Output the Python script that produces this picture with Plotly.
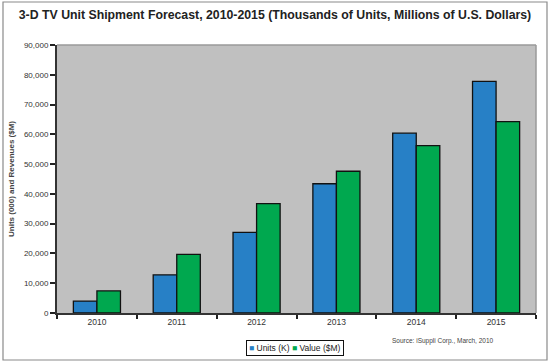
import plotly.graph_objects as go

years = ["2010", "2011", "2012", "2013", "2014", "2015"]
units_k = [4000, 12800, 27100, 43400, 60400, 77800]
value_m = [7400, 19700, 36700, 47600, 56200, 64300]
y_ticks = [0, 10000, 20000, 30000, 40000, 50000, 60000, 70000, 80000, 90000]
series_names = ["Units (K)", "Value ($M)"]

BLUE = "#2780c6"
GREEN = "#00a84f"
FONT = "Liberation Sans, Arial, sans-serif"

fig = go.Figure()
fig.add_trace(go.Bar(x=years, y=units_k, name=series_names[0],
                     marker=dict(color=BLUE, line=dict(color="#111111", width=1.3))))
fig.add_trace(go.Bar(x=years, y=value_m, name=series_names[1],
                     marker=dict(color=GREEN, line=dict(color="#111111", width=1.3))))

L, R, T, B = 57, 14, 45, 51
W, H = 550, 364
pw, ph = W - L - R, H - T - B

def px(xp):
    return (xp - L) / pw

def py(yp):
    return (H - B - yp) / ph

fig.update_layout(
    width=W, height=H,
    margin=dict(l=L, r=R, t=T, b=B, pad=0, autoexpand=False),
    paper_bgcolor="white",
    plot_bgcolor="#c0c0c0",
    barmode="group", bargap=0.41, bargroupgap=0,
    font=dict(family=FONT, color="#333333", size=8),
    title=dict(text="<b>3-D TV Unit Shipment Forecast, 2010-2015 (Thousands of Units, Millions of U.S. Dollars)</b>",
               x=0.5, xref="container", xanchor="center", y=1 - 15 / H, yanchor="middle",
               font=dict(size=12.3, color="#222222", family=FONT)),
    xaxis=dict(showline=True, linecolor="#333333", linewidth=2, ticks="outside",
               tickson="boundaries", ticklen=4, tickwidth=1.5, tickcolor="#222222",
               tickfont=dict(size=8.5, color="#333333"), showgrid=False),
    yaxis=dict(range=[0, 90000], tickvals=y_ticks, tickformat=",", showline=True,
               linecolor="#333333", linewidth=2, ticks="outside", ticklen=5,
               tickwidth=1.5, tickcolor="#222222", showgrid=False, zeroline=False,
               tickfont=dict(size=8, color="#333333"),
               title=dict(text="<b>Units (000) and Revenues ($M)</b>", standoff=8,
                          font=dict(size=8, color="#444444"))),
    showlegend=False,
)

# plot border (top & right)
fig.add_shape(type="line", xref="paper", yref="paper", x0=0, x1=1, y0=1, y1=1,
              line=dict(color="#9a9a9a", width=1.5))
fig.add_shape(type="line", xref="paper", yref="paper", x0=1, x1=1, y0=0, y1=1,
              line=dict(color="#9a9a9a", width=1.5))
# outer frame
fig.add_shape(type="rect", xref="paper", yref="paper", x0=px(3), x1=px(547),
              y0=py(360), y1=py(2), line=dict(color="#8a8a8a", width=1.2))

# compact legend box (Excel style)
legend_text = (f'<span style="color:{BLUE}">■</span> {series_names[0]} '
               f'<span style="color:{GREEN}">■</span> {series_names[1]}')
fig.add_annotation(text=legend_text, xref="paper", yref="paper",
                   x=px(295), y=py(347.5), showarrow=False, xanchor="center", yanchor="middle",
                   bordercolor="#111111", borderwidth=1, borderpad=2, bgcolor="white",
                   font=dict(size=8.5, color="#222222"))

fig.add_annotation(text="Source: iSuppli Corp., March, 2010", xref="paper", yref="paper",
                   x=px(443), y=py(341), showarrow=False, xanchor="center", yanchor="middle",
                   font=dict(size=6.5, color="#444444"))

fig.write_html("out.html", config={"displayModeBar": False},
               post_script="document.body.style.margin='0';")
